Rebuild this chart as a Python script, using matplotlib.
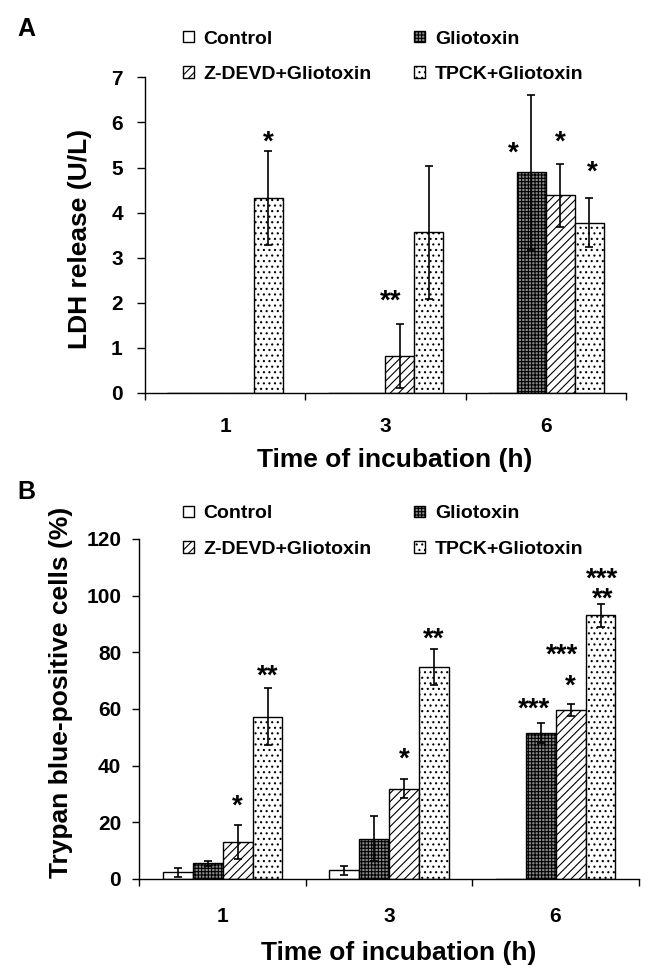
import numpy as np
import matplotlib
matplotlib.use('Agg')
import matplotlib.pyplot as plt

plt.rcParams['font.family'] = ['Liberation Sans', 'DejaVu Sans']
plt.rcParams['font.weight'] = 'bold'
plt.rcParams['hatch.linewidth'] = 0.8
plt.rcParams['axes.linewidth'] = 1.0

times = ['1', '3', '6']
series = ['Control', 'Gliotoxin', 'Z-DEVD+Gliotoxin', 'TPCK+Gliotoxin']
hatches = ['', '+++++', '////', '...']
faces = ['white', '#8a8a8a', 'white', 'white']

# Panel A - LDH release (U/L)
ldh_control = [0, 0, 0]
ldh_glio = [0, 0, 4.89]
ldh_zdevd = [0, 0.82, 4.38]
ldh_tpck = [4.32, 3.56, 3.78]
ldh_control_err = [0, 0, 0]
ldh_glio_err = [0, 0, 1.72]
ldh_zdevd_err = [0, 0.72, 0.69]
ldh_tpck_err = [1.04, 1.48, 0.54]

# Panel B - trypan blue-positive cells (%)
tb_control = [2.3, 3.0, 0]
tb_glio = [5.6, 14.2, 51.4]
tb_zdevd = [13.0, 31.9, 59.6]
tb_tpck = [57.3, 74.8, 93.0]
tb_control_err = [1.7, 1.5, 0]
tb_glio_err = [0.9, 8.0, 3.5]
tb_zdevd_err = [6.0, 3.2, 2.1]
tb_tpck_err = [10.0, 6.5, 4.0]

# significance marks: (time index, series index, text, height of last line, nudge)
ldh_stars = [(0, 3, '*', 5.76, 0), (1, 2, '**', 2.23, -0.06), (2, 1, '*', 5.53, -0.11),
             (2, 2, '*', 5.76, 0), (2, 3, '*', 5.09, 0.02)]
tb_stars = [(0, 2, '*', 28.8, 0), (0, 3, '**', 74.8, 0), (1, 2, '*', 45.5, 0),
            (1, 3, '**', 88.0, 0), (2, 1, '***', 63.2, -0.04), (2, 2, '*', 71.2, 0),
            (2, 2, '***', 82.1, -0.05), (2, 3, '***\n**', 101.9, 0.01)]

W = 0.18
STAR_FS = 20


def draw_panel(ax, values, errors, ylim, yticks, ylabel, stars):
    x = np.arange(len(times))
    bars = []
    for k in range(len(series)):
        pos = x + (k - 1.5) * W
        vals = np.array(values[k], dtype=float)
        errs = np.array(errors[k], dtype=float)
        b = ax.bar(pos, vals, W, facecolor=faces[k], edgecolor='black',
                   hatch=hatches[k], linewidth=1.0, label=series[k], zorder=2)
        bars.append(b)
        m = vals > 0
        ax.errorbar(pos[m], vals[m], yerr=errs[m], fmt='none', ecolor='black',
                    elinewidth=1.2, capsize=3, capthick=1.2, zorder=3)
    for t, k, txt, h, dx in stars:
        ax.annotate(txt, (t + (k - 1.5) * W + dx, h), xytext=(0, -0.6 * STAR_FS),
                    textcoords='offset points', ha='center', va='baseline',
                    fontsize=STAR_FS, fontweight='bold', linespacing=0.72)
    ax.set_xlim(-0.5, 2.5)
    ax.set_ylim(*ylim)
    ax.set_yticks(yticks)
    ax.set_xticks([-0.5, 0.5, 1.5, 2.5], labels=['', '', '', ''])
    ax.set_xticks(x, labels=times, minor=True)
    ax.spines['top'].set_visible(False)
    ax.spines['right'].set_visible(False)
    ax.tick_params(axis='x', which='major', direction='out', length=5, width=1.0)
    ax.tick_params(axis='x', which='minor', length=0, labelsize=15)
    ax.tick_params(axis='y', direction='out', width=1.0, labelsize=15)
    ax.set_ylabel(ylabel, fontsize=19, fontweight='bold')
    ax.set_xlabel('Time of incubation (h)', fontsize=19, fontweight='bold')
    return bars


fig = plt.figure(figsize=(6.51, 9.73), dpi=100)

axA = fig.add_axes([145 / 651, 1 - 393 / 973, (626 - 145) / 651, (393 - 77.3) / 973])
barsA = draw_panel(axA, [ldh_control, ldh_glio, ldh_zdevd, ldh_tpck],
                   [ldh_control_err, ldh_glio_err, ldh_zdevd_err, ldh_tpck_err],
                   (0, 7), range(0, 8), 'LDH release (U/L)', ldh_stars)
axA.tick_params(axis='y', length=6, pad=10)
axA.tick_params(axis='x', which='minor', pad=17)
axA.yaxis.set_label_coords(-0.11, 0.488)
axA.xaxis.set_label_coords(0.52, -0.173)

axB = fig.add_axes([139.3 / 651, 1 - 879 / 973, (638.8 - 139.3) / 651, (879 - 538.8) / 973])
barsB = draw_panel(axB, [tb_control, tb_glio, tb_zdevd, tb_tpck],
                   [tb_control_err, tb_glio_err, tb_zdevd_err, tb_tpck_err],
                   (0, 120), range(0, 121, 20), 'Trypan blue-positive cells (%)', tb_stars)
axB.tick_params(axis='y', length=5, pad=8)
axB.tick_params(axis='x', which='minor', pad=20)
axB.yaxis.set_label_coords(-0.133, 0.55)
axB.xaxis.set_label_coords(0.52, -0.182)

# legend filled column by column: Control / Z-DEVD, then Gliotoxin / TPCK
order = [0, 2, 1, 3]
for ax, bars, top in [(axA, barsA, 30.5), (axB, barsB, 505.5)]:
    ax.legend([bars[i] for i in order], [series[i] for i in order],
              ncol=2, loc='upper left', bbox_to_anchor=(183 / 651, 1 - top / 973),
              bbox_transform=fig.transFigure, frameon=False, handlelength=0.55,
              handleheight=0.55, handletextpad=0.5, columnspacing=2.2,
              labelspacing=0.95, borderpad=0, borderaxespad=0,
              prop=dict(size=14, weight='bold'))

fig.text(26 / 651, 1 - 29 / 973, 'A', ha='center', va='center', fontsize=18, fontweight='bold')
fig.text(26 / 651, 1 - 492 / 973, 'B', ha='center', va='center', fontsize=18, fontweight='bold')

fig.savefig('out.png', dpi=100)
